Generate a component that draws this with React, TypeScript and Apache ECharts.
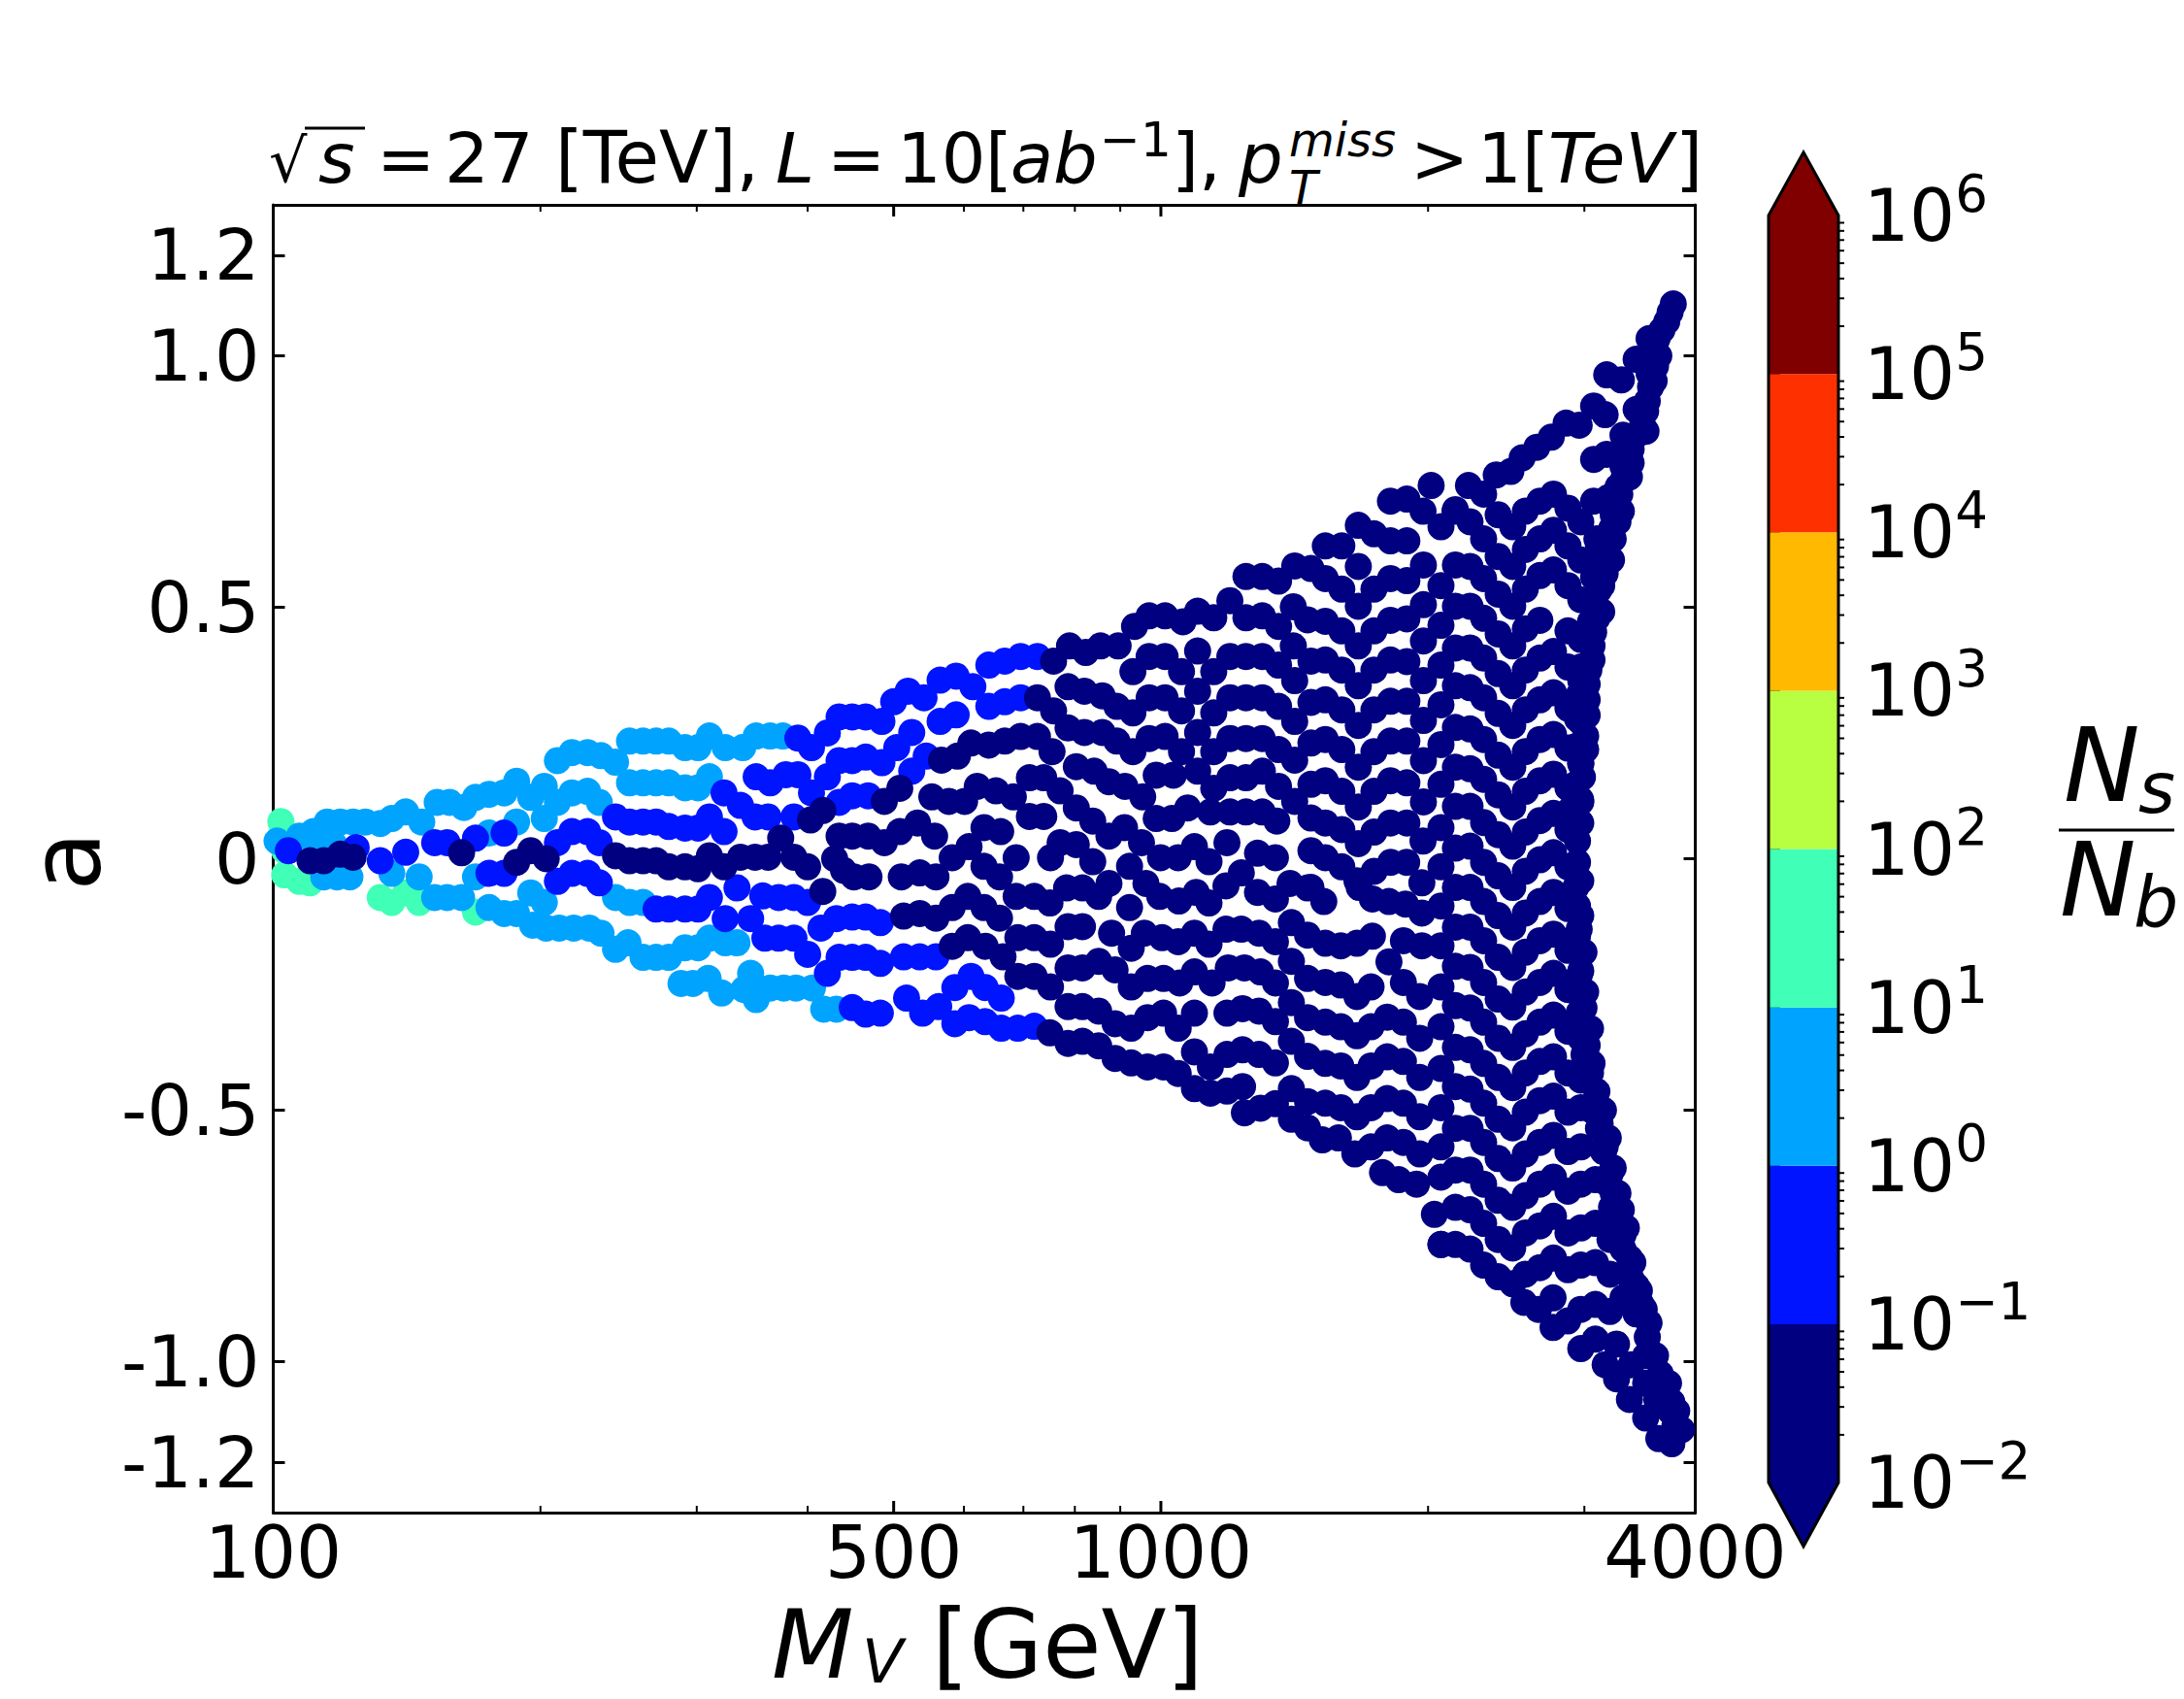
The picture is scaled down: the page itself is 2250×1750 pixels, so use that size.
import React, { useRef, useEffect } from 'react'
import * as echarts from 'echarts'

const FONT = '"DejaVu Sans"'

// tick values and labels
const yTicks = [-1.2, -1.0, -0.5, 0, 0.5, 1.0, 1.2]
const xLabels = [100, 500, 1000, 4000]
const xMajorTicks = [500, 1000]
const xMinorTicks = [200, 300, 400, 600, 700, 800, 900, 2000, 3000]

// colour bar bins, N_s/N_b
const binEdges = [1e-2, 1e-1, 1, 10, 100, 1e3, 1e4, 1e5, 1e6]
const binColors = ['#000080', '#0014ff', '#00a4ff', '#40ffb7', '#b7ff40', '#ffb900', '#ff3000', '#800000']
const arrowLowTip = 0.00394
const arrowHighTip = 2512000
const decades = [-2, -1, 0, 1, 2, 3, 4, 5]
const mantissas = [2, 3, 4, 5, 6, 7, 8, 9]

// points [M_V, a], one array per colour bin
const tealPoints = [
  [102, 0.074], [103, 0.016], [103, -0.032], [107, -0.045], [110, -0.048], [132, -0.077], [136, -0.087],
  [141, -0.068], [146, -0.087], [169, -0.106],
]

const lightBluePoints = [
  [101, 0.035], [107, 0.045], [111, 0.054], [115, 0.073], [119, 0.073], [123, 0.073], [127, 0.073], [132, 0.07],
  [136, 0.08], [141, 0.093], [147, 0.073], [153, 0.112], [158, 0.112], [164, 0.102], [169, 0.122], [175, 0.128],
  [182, 0.131], [188, 0.154], [195, 0.122], [202, 0.08], [202, 0.144], [209, 0.195], [209, 0.112], [217, 0.211],
  [217, 0.131], [226, 0.211], [226, 0.134], [234, 0.205], [233, 0.112], [243, 0.192], [252, 0.234], [261, 0.234],
  [270, 0.234], [279, 0.234], [291, 0.221], [301, 0.221], [310, 0.244], [323, 0.221], [338, 0.221], [350, 0.244],
  [363, 0.244], [375, 0.244], [252, 0.151], [261, 0.151], [270, 0.151], [279, 0.151], [291, 0.141], [301, 0.141],
  [310, 0.163], [114, -0.036], [118, -0.036], [122, -0.036], [117, 0.029], [113, 0.029], [136, -0.029],
  [146, -0.036], [175, 0.051], [188, 0.073], [169, -0.036], [152, -0.077], [157, -0.077], [163, -0.077],
  [175, -0.097], [182, -0.109], [188, -0.109], [195, -0.068], [202, -0.087], [196, -0.132], [203, -0.138],
  [210, -0.138], [218, -0.138], [227, -0.138], [234, -0.148], [243, -0.18], [251, -0.167], [261, -0.196],
  [270, -0.196], [279, -0.196], [291, -0.177], [301, -0.177], [310, -0.158], [323, -0.167], [333, -0.167],
  [243, -0.077], [252, -0.087], [261, -0.087], [288, -0.248], [297, -0.248], [309, -0.238], [320, -0.267],
  [339, -0.26], [345, -0.228], [350, -0.28], [363, -0.257], [376, -0.257], [388, -0.257], [405, -0.257],
  [417, -0.299], [431, -0.299],
]

const bluePoints = [
  [104, 0.016], [124, 0.022], [132, -0.004], [141, 0.013], [152, 0.032], [157, 0.032], [169, 0.041], [182, 0.051],
  [175, -0.029], [182, -0.029], [209, 0.032], [217, 0.054], [226, 0.054], [233, 0.032], [209, -0.045],
  [217, -0.029], [226, -0.029], [233, -0.048], [243, 0.083], [252, 0.073], [261, 0.073], [270, 0.073], [279, 0.064],
  [291, 0.061], [301, 0.061], [310, 0.083], [322, 0.054], [270, -0.1], [279, -0.1], [291, -0.1], [301, -0.1],
  [310, -0.077], [323, -0.119], [333, -0.058], [322, 0.131], [336, 0.106], [349, 0.083], [361, 0.083], [386, 0.083],
  [350, 0.163], [363, 0.151], [378, 0.167], [390, 0.167], [404, 0.131], [390, 0.24], [404, 0.221], [421, 0.25],
  [434, 0.282], [449, 0.282], [465, 0.282], [421, 0.163], [434, 0.195], [449, 0.195], [465, 0.202], [434, 0.112],
  [449, 0.125], [468, 0.125], [356, -0.074], [371, -0.077], [386, -0.077], [400, -0.087], [345, -0.119],
  [358, -0.158], [371, -0.158], [386, -0.158], [400, -0.19], [414, -0.138], [431, -0.119], [449, -0.116],
  [465, -0.116], [421, -0.228], [434, -0.196], [449, -0.196], [465, -0.196], [449, -0.296], [465, -0.309],
  [485, 0.273], [500, 0.312], [519, 0.333], [541, 0.32], [564, 0.355], [588, 0.363], [614, 0.342], [640, 0.385],
  [667, 0.393], [695, 0.402], [726, 0.402], [640, 0.303], [667, 0.312], [695, 0.32], [564, 0.273], [588, 0.286],
  [524, 0.251], [504, 0.221], [485, 0.191], [544, 0.204], [524, 0.174], [483, -0.127], [483, -0.208], [513, -0.195],
  [535, -0.195], [558, -0.195], [483, -0.307], [517, -0.277], [539, -0.307], [562, -0.294], [586, -0.256],
  [611, -0.234], [634, -0.256], [661, -0.277], [586, -0.328], [608, -0.316], [634, -0.324], [661, -0.337],
  [690, -0.337], [720, -0.333],
]

const navyLeft = [
  [110, -0.004], [114, -0.004], [119, 0.009], [123, 0.003], [163, 0.012], [188, -0.007], [195, 0.016], [203, 0],
  [243, 0.006], [252, -0.004], [261, -0.004], [270, -0.004], [279, -0.016], [291, -0.016], [301, -0.02], [310, 0.006],
  [322, -0.016], [336, 0.003], [349, 0.003], [361, 0.003], [373, 0.041], [386, 0.003], [400, -0.016], [403, 0.077],
  [416, 0.096], [429, 0], [439, -0.023], [451, -0.036], [469, -0.036], [416, -0.065], [434, 0.045], [449, 0.045],
  [468, 0.045],
]

const navyMid = [
  [757, 0.393], [789, 0.423], [823, 0.41], [855, 0.423], [895, 0.423], [934, 0.462], [970, 0.483], [1011, 0.483],
  [1059, 0.471], [1100, 0.492], [1147, 0.479], [1196, 0.513], [1247, 0.479], [1301, 0.483], [1357, 0.462],
  [1247, 0.561], [1301, 0.561], [1357, 0.552], [1415, 0.582],
  [930, 0.372], [970, 0.402], [1011, 0.402], [1055, 0.372], [1100, 0.413], [1147, 0.372], [1196, 0.402], [1247, 0.402],
  [1301, 0.402], [1357, 0.385], [1415, 0.354],
  [786, 0.342], [820, 0.333], [859, 0.324], [892, 0.303], [930, 0.29], [970, 0.32], [1011, 0.32], [1055, 0.294],
  [1100, 0.333], [1147, 0.29], [1196, 0.32], [1247, 0.32], [1301, 0.32], [1357, 0.303], [1415, 0.273],
  [726, 0.32], [757, 0.294], [786, 0.26], [820, 0.251], [859, 0.251], [892, 0.234], [930, 0.213], [970, 0.239],
  [1011, 0.243], [1055, 0.213], [1100, 0.251], [1147, 0.213], [1196, 0.239], [1247, 0.239], [1301, 0.239],
  [1357, 0.217], [1415, 0.196],
  [566, 0.196], [590, 0.204], [611, 0.23], [640, 0.226], [667, 0.234], [695, 0.243], [726, 0.243], [754, 0.213],
  [803, 0.183], [841, 0.174], [874, 0.153], [911, 0.144], [954, 0.123], [988, 0.166], [1033, 0.166], [1100, 0.174],
  [1147, 0.14], [1196, 0.161], [1247, 0.161], [1301, 0.174], [1357, 0.144], [1415, 0.114],
  [508, 0.14], [488, 0.114], [552, 0.123], [577, 0.114], [601, 0.114], [621, 0.144], [652, 0.135], [682, 0.123],
  [711, 0.161], [738, 0.161], [770, 0.135], [803, 0.101], [838, 0.075], [874, 0.045], [910, 0.062], [951, 0.032],
  [988, 0.08], [1029, 0.08], [1072, 0.101], [1137, 0.093], [1196, 0.093], [1247, 0.093], [1301, 0.093], [1351, 0.075],
  [488, 0.032], [508, 0.054], [532, 0.071], [556, 0.045], [582, 0.002], [608, 0.024], [632, 0.062], [660, 0.054],
  [687, 0.002], [711, 0.084], [738, 0.084], [751, 0.002], [770, 0.032], [803, 0.028], [838, -0.006], [874, -0.049],
  [922, -0.015], [962, -0.049], [999, 0.002], [1046, 0.002], [1091, 0.024], [1133, -0.006], [1187, 0.032],
  [1285, 0.011], [1346, 0.002],
  [510, -0.036], [535, -0.028], [558, -0.036], [632, -0.015], [658, -0.036], [687, -0.075], [720, -0.075],
  [750, -0.088], [783, -0.058], [816, -0.058], [851, -0.075], [922, -0.097], [997, -0.075], [1048, -0.084],
  [1096, -0.067], [1133, -0.088], [1184, -0.054], [1232, -0.028], [1285, -0.067], [1346, -0.08], [1398, -0.049],
  [1463, -0.058],
  [513, -0.114], [535, -0.109], [558, -0.118], [582, -0.097], [606, -0.075], [632, -0.097], [658, -0.118],
  [690, -0.157], [720, -0.157], [751, -0.17], [786, -0.135], [816, -0.135], [880, -0.148], [926, -0.178],
  [958, -0.148], [1003, -0.157], [1046, -0.165], [1091, -0.148], [1133, -0.17], [1184, -0.14], [1232, -0.14],
  [1290, -0.148], [1346, -0.165], [1403, -0.127], [1463, -0.152],
  [582, -0.174], [606, -0.157], [634, -0.174], [664, -0.195], [690, -0.234], [720, -0.234], [751, -0.255],
  [786, -0.217], [816, -0.217], [851, -0.204], [888, -0.221], [926, -0.255], [966, -0.238], [1007, -0.238],
  [1050, -0.247], [1091, -0.225], [1142, -0.247], [1191, -0.217], [1242, -0.217], [1295, -0.225], [1346, -0.247],
  [1403, -0.204], [1463, -0.238],
  [786, -0.294], [816, -0.294], [851, -0.303], [888, -0.328], [926, -0.337], [966, -0.316], [1007, -0.307],
  [1046, -0.337], [1091, -0.307], [1187, -0.307], [1236, -0.298], [1290, -0.303], [1346, -0.324], [1403, -0.286],
  [1463, -0.316],
  [750, -0.346], [786, -0.367], [816, -0.363], [851, -0.372], [888, -0.397], [926, -0.406], [966, -0.414],
  [1007, -0.414], [1046, -0.427], [1091, -0.384], [1091, -0.457], [1137, -0.466], [1187, -0.462], [1236, -0.453],
  [1137, -0.414], [1187, -0.389], [1236, -0.38], [1290, -0.389], [1346, -0.406], [1403, -0.363], [1463, -0.393],
  [1242, -0.505], [1295, -0.496], [1346, -0.487], [1403, -0.518], [1463, -0.535], [1403, -0.457], [1463, -0.483],
]

const navyUpperChevrons = [
  [1476, 0.577], [1532, 0.557], [1599, 0.536], [1669, 0.502], [1738, 0.536], [1814, 0.557], [1893, 0.553], [1976, 0.584],
  [1410, 0.501], [1463, 0.475], [1532, 0.472], [1599, 0.453], [1669, 0.423], [1738, 0.453], [1814, 0.474], [1893, 0.477], [1976, 0.505],
  [1410, 0.423], [1476, 0.393], [1532, 0.395], [1599, 0.375], [1669, 0.344], [1738, 0.375], [1814, 0.395], [1893, 0.392], [1976, 0.433],
  [1476, 0.311], [1532, 0.316], [1599, 0.296], [1669, 0.265], [1738, 0.296], [1814, 0.313], [1893, 0.313], [1976, 0.354],
  [1476, 0.23], [1532, 0.237], [1599, 0.217], [1669, 0.182], [1738, 0.213], [1814, 0.234], [1893, 0.234], [1976, 0.275],
  [1476, 0.148], [1532, 0.155], [1599, 0.134], [1669, 0.103], [1738, 0.134], [1814, 0.155], [1893, 0.151], [1976, 0.195],
  [1476, 0.081], [1532, 0.071], [1599, 0.058], [1669, 0.03], [1738, 0.053], [1814, 0.071], [1893, 0.071], [1976, 0.113],
  [1476, 0.016], [1532, 0.002], [1599, -0.016], [1663, -0.044], [1739, -0.025], [1815, -0.007], [1892, -0.007], [1974, 0.035],
  [1476, -0.057], [1526, -0.085], [1673, -0.057], [1731, -0.08], [1807, -0.085], [1886, -0.09], [1968, -0.048], [1968, -0.108],
  [1532, -0.168], [1595, -0.173], [1663, -0.168], [1731, -0.154], [1876, -0.163], [1968, -0.173], [1807, -0.205],
  [1532, -0.246], [1595, -0.251], [1663, -0.274], [1725, -0.255], [1876, -0.246], [1957, -0.274],
  [1532, -0.325], [1595, -0.334], [1663, -0.352], [1725, -0.334], [1799, -0.315], [1876, -0.325], [1957, -0.357],
  [1532, -0.407], [1595, -0.412], [1663, -0.435], [1725, -0.412], [1799, -0.394], [1876, -0.403], [1957, -0.435],
  [1532, -0.486], [1595, -0.495], [1663, -0.513], [1725, -0.495], [1799, -0.477], [1876, -0.486], [1957, -0.513],
  [1520, -0.559], [1585, -0.555], [1654, -0.587], [1725, -0.573], [1799, -0.555], [1876, -0.564], [1957, -0.587],
  [1777, -0.624], [1853, -0.638], [1941, -0.647],
  [1532, 0.622], [1599, 0.622], [1669, 0.663], [1738, 0.646], [1814, 0.632], [1893, 0.632], [1669, 0.581],
  [1814, 0.711], [1893, 0.715], [1974, 0.691], [2068, 0.66], [2145, 0.691], [2016, 0.742],
]

const navyColumn2068 = [
  0.543, 0.464, 0.385, 0.306, 0.227, 0.148, 0.062, -0.016, -0.094, -0.173, -0.255, -0.334, -0.417, -0.495, -0.573, -0.633, -0.767,
]

const rightCols = [2147, 2230, 2310, 2399, 2491, 2574, 2673, 2769, 2875, 2972]
const rightRows = [
  [null, null, null, 0.684, 0.66, 0.691, 0.711, 0.725, 0.697, 0.67],
  [0.694, 0.67, 0.636, 0.601, 0.581, 0.615, 0.636, 0.653, 0.622, 0.594],
  [0.584, 0.581, 0.557, 0.526, 0.502, 0.536, 0.563, 0.574, 0.543, 0.515],
  [0.502, 0.502, 0.478, 0.447, 0.423, 0.457, 0.474, null, 0.453, 0.436],
  [0.419, 0.419, 0.399, 0.368, 0.344, 0.375, 0.399, 0.412, 0.381, 0.354],
  [0.344, 0.34, 0.32, 0.289, 0.265, 0.296, 0.316, 0.33, 0.299, 0.272],
  [0.261, 0.258, 0.237, 0.206, 0.182, 0.213, 0.237, 0.247, 0.22, 0.189],
  [0.182, 0.179, 0.158, 0.127, 0.103, 0.134, 0.155, 0.168, 0.141, 0.113],
  [0.104, 0.104, 0.072, 0.048, 0.025, 0.053, 0.076, 0.09, 0.058, 0.071],
  [0.021, 0.025, -0.007, -0.034, -0.057, -0.025, -0.002, 0.012, -0.016, -0.044],
  [-0.057, -0.057, -0.085, -0.113, -0.136, -0.108, -0.085, -0.067, -0.099, -0.113],
  [-0.136, -0.136, -0.163, -0.196, -0.216, -0.186, -0.163, -0.15, -0.182, -0.191],
  [-0.214, -0.216, -0.246, -0.279, -0.295, -0.265, -0.246, -0.228, -0.26, -0.274],
  [-0.292, -0.297, -0.325, -0.357, -0.375, -0.348, -0.325, -0.311, -0.343, -0.357],
  [-0.375, -0.38, -0.407, -0.435, -0.455, -0.426, -0.403, -0.394, -0.426, -0.44],
  [-0.453, -0.458, -0.486, -0.518, -0.535, -0.504, -0.481, -0.472, -0.504, -0.495],
  [-0.536, -0.536, -0.564, -0.596, -0.615, -0.587, -0.564, -0.55, -0.582, -0.573],
  [-0.619, -0.619, -0.647, -0.679, -0.693, -0.67, -0.647, -0.633, -0.661, -0.647],
  [-0.693, -0.698, -0.725, -0.757, -0.774, -0.744, -0.73, -0.711, -0.744, -0.734],
  [-0.767, -0.776, -0.808, -0.831, -0.845, -0.826, -0.813, -0.794, -0.817, -0.808],
]

const navyEdge = [
  [2221, 0.742], [2310, 0.725], [2387, 0.763], [2479, 0.77], [2553, 0.797], [2652, 0.818], [2753, 0.838], [2861, 0.866],
  [2960, 0.862], [3073, 0.9], [3166, 0.883], [3179, 0.962], [3302, 0.952], [3431, 0.993],
  [3778, 1.103], [3747, 1.086], [3715, 1.068], [3668, 1.051], [3623, 1.034], [3548, 1.034], [3639, 1.0], [3608, 0.979],
  [3548, 0.965], [3562, 0.938], [3532, 0.91], [3517, 0.89], [3431, 0.893], [3488, 0.862], [3431, 0.842], [3316, 0.842],
  [3387, 0.814], [3387, 0.787], [3289, 0.807], [3179, 0.804], [3073, 0.794], [3316, 0.752], [3372, 0.759], [3289, 0.725],
  [3192, 0.718], [3073, 0.711], [3302, 0.691], [3273, 0.67], [3233, 0.636], [3099, 0.636], [3219, 0.594], [3166, 0.567],
  [3112, 0.622], [3138, 0.543], [3073, 0.56], [3138, 0.491], [3073, 0.512], [3048, 0.471], [3060, 0.423], [3010, 0.436],
  [3035, 0.375], [2972, 0.381], [3022, 0.316], [2960, 0.326], [3010, 0.244], [2947, 0.278], [2972, 0.189], [2934, 0.223],
  [2972, 0.117], [2934, 0.148], [2897, 0.099], [2934, 0.067], [2947, -0.007], [2934, -0.057], [2947, -0.094],
  [2947, -0.154], [2997, -0.186], [3010, -0.265], [2960, -0.232], [3048, -0.338], [2960, -0.306], [2997, -0.389],
  [3060, -0.407], [3099, -0.463], [3022, -0.435], [3152, -0.5], [3060, -0.5], [3192, -0.555], [3112, -0.536],
  [3233, -0.615], [3152, -0.582], [3273, -0.665], [3192, -0.647], [3302, -0.698], [3219, -0.693], [3345, -0.734],
  [3273, -0.734], [3402, -0.803], [3316, -0.776], [3460, -0.859], [3387, -0.836], [3504, -0.896], [3431, -0.905],
  [3548, -0.923], [3608, -0.988], [3517, -0.988], [3732, -1.043], [3653, -1.024], [3812, -1.098], [3764, -1.08],
  [3860, -1.135], [3764, -1.163], [3639, -1.153], [3517, -1.112], [3372, -1.075],
]

// points inside the solid band along the right edge
const navyBandUpper = [
  [3345, 0.82], [3316, 0.78], [3273, 0.739], [3233, 0.684], [3219, 0.656], [3166, 0.615], [3125, 0.581], [3112, 0.533],
  [3099, 0.478], [3073, 0.45], [3060, 0.395], [3022, 0.347], [3022, 0.285], [3010, 0.217], [2985, 0.162],
  [3595, 0.95], [3520, 0.85],
]
const navyBandLower = [
  [2947, 0.035], [2960, -0.14], [2972, -0.223], [2997, -0.297], [3022, -0.371], [3048, -0.426], [3087, -0.481],
  [3125, -0.527], [3166, -0.573], [3206, -0.628], [3233, -0.665], [3273, -0.711], [3316, -0.748], [3372, -0.794],
  [3431, -0.849], [3475, -0.886], [3532, -0.951], [3578, -0.988], [3700, -1.061], [3747, -1.098], [3795, -1.126],
  [3620, -1.075],
]

const navyTail = [
  [2033, -0.707], [2068, -0.767], [3087, -0.638], [3087, -0.725], [3206, -0.757], [3087, -0.803], [3206, -0.826],
  [2564, -0.882], [2663, -0.896], [2766, -0.873], [2766, -0.932], [2873, -0.919], [2972, -0.896], [3087, -0.886],
  [3206, -0.9], [3316, -0.873], [2972, -0.974], [3087, -0.955], [3261, -0.965], [3166, -1.006], [3261, -1.034],
  [3387, -1.006], [3517, -1.043],
]

const navyRightPoints = rightRows.flatMap(row =>
  row.flatMap((a, i) => (a === null ? [] : [[rightCols[i], a]]))
)
const navyPoints = [
  ...navyLeft,
  ...navyMid,
  ...navyUpperChevrons,
  ...navyColumn2068.map(a => [2068, a]),
  ...navyRightPoints,
  ...navyEdge,
  ...navyBandUpper,
  ...navyBandLower,
  ...navyTail,
]

function scatter(name: string, data: number[][], color: string) {
  return { name, type: 'scatter', data, symbol: 'circle', symbolSize: 28, itemStyle: { color, opacity: 1 }, silent: true }
}

// tick marks on the log x axis: y is the frame edge, dir the side they point to
function xTicks(values: number[], edge: number, length: number, width: number, dir: number) {
  return {
    type: 'custom',
    silent: true,
    encode: { x: 0, y: 1 },
    data: values.map(v => [v, edge]),
    renderItem: (_: any, api: any) => {
      const p = api.coord([api.value(0), api.value(1)])
      return {
        type: 'line',
        shape: { x1: p[0], y1: p[1], x2: p[0], y2: p[1] + dir * length },
        style: { stroke: '#000', lineWidth: width },
      }
    },
  }
}

function mathText(text: string, x: number, baseline: number, size: number, italic = false) {
  return {
    type: 'text',
    x,
    y: baseline - 0.346 * size,
    silent: true,
    style: {
      text,
      fill: '#000',
      font: `${italic ? 'italic ' : ''}${size}px ${FONT}`,
      textAlign: 'left',
      textVerticalAlign: 'middle',
    },
  }
}

function App() {
  const chartRef = useRef(null)

  useEffect(() => {
    const chart = echarts.init(chartRef.current, null, { renderer: 'svg' })

    const option = {
      animation: false,
      backgroundColor: '#fff',
      grid: [
        { left: 281.5, top: 211, width: 1465, height: 1347 },
        { left: 1822, top: 222, width: 72, height: 1305 },
      ],
      xAxis: [
        {
          type: 'log', logBase: 10, min: 100, max: 4000, gridIndex: 0, position: 'bottom',
          axisLine: { onZero: false, lineStyle: { color: '#000', width: 3 } },
          axisTick: { show: false }, minorTick: { show: false }, axisLabel: { show: false }, splitLine: { show: false },
        },
        {
          type: 'log', logBase: 10, min: 100, max: 4000, gridIndex: 0, position: 'top',
          axisLine: { onZero: false, lineStyle: { color: '#000', width: 3 } },
          axisTick: { show: false }, minorTick: { show: false }, axisLabel: { show: false }, splitLine: { show: false },
        },
        { type: 'value', min: 0, max: 1, gridIndex: 1, show: false },
      ],
      yAxis: [
        {
          type: 'value', min: -1.3, max: 1.3, gridIndex: 0, position: 'left',
          axisLine: { onZero: false, lineStyle: { color: '#000', width: 3 } },
          axisTick: { inside: true, length: 12, customValues: yTicks, lineStyle: { color: '#000', width: 3 } },
          axisLabel: {
            customValues: yTicks,
            margin: 14,
            color: '#000',
            fontFamily: FONT,
            fontSize: 73,
            formatter: (v: number) => (v === 0 ? '0' : v.toFixed(1)),
          },
          splitLine: { show: false },
        },
        {
          type: 'value', min: -1.3, max: 1.3, gridIndex: 0, position: 'right',
          axisLine: { onZero: false, lineStyle: { color: '#000', width: 3 } },
          axisTick: { inside: true, length: 12, customValues: yTicks, lineStyle: { color: '#000', width: 3 } },
          axisLabel: { show: false },
          splitLine: { show: false },
        },
        {
          type: 'log', logBase: 10, min: 0.01, max: 1000000, gridIndex: 1, position: 'right', splitNumber: 8,
          axisLine: { show: false },
          axisTick: { length: 12, lineStyle: { color: '#000', width: 3 } },
          axisLabel: {
            margin: 26,
            color: '#000',
            fontFamily: FONT,
            formatter: (v: number) => {
              const e = Math.round(Math.log10(v))
              return `{b|10}{s|${e < 0 ? '\u2212' + -e : e}}`
            },
            rich: {
              b: { fontSize: 74, fontFamily: FONT, color: '#000' },
              s: { fontSize: 53, fontFamily: FONT, color: '#000', padding: [0, 0, 46, 0] },
            },
          },
          splitLine: { show: false },
        },
      ],
      series: [
        scatter('1-10 teal', tealPoints, binColors[3]),
        scatter('0-1 light blue', lightBluePoints, binColors[2]),
        scatter('0.1-1 blue', bluePoints, binColors[1]),
        scatter('0.01-0.1 navy', navyPoints, binColors[0]),
        xTicks(xMajorTicks, -1.3, 12, 3, -1),
        xTicks(xMinorTicks, -1.3, 7, 2, -1),
        xTicks(xMajorTicks, 1.3, 12, 3, 1),
        xTicks(xMinorTicks, 1.3, 7, 2, 1),
        {
          // x tick labels: the log axis cannot place 500 and 4000 by itself
          type: 'custom',
          silent: true,
          encode: { x: 0, y: 1 },
          data: xLabels.map(v => [v, -1.3]),
          renderItem: (_: any, api: any) => {
            const p = api.coord([api.value(0), api.value(1)])
            return {
              type: 'text',
              x: p[0],
              y: p[1] + 41,
              style: {
                text: String(api.value(0)),
                fill: '#000',
                font: `74px ${FONT}`,
                textAlign: 'center',
                textVerticalAlign: 'middle',
              },
            }
          },
        },
        {
          // colour bar cells
          type: 'custom',
          xAxisIndex: 2,
          yAxisIndex: 2,
          silent: true,
          encode: { x: 0, y: 1 },
          data: binColors.map((_, i) => [0, binEdges[i], binEdges[i + 1], i]),
          renderItem: (_: any, api: any) => {
            const a = api.coord([0, api.value(1)])
            const b = api.coord([1, api.value(2)])
            return {
              type: 'rect',
              shape: { x: a[0], y: b[1], width: b[0] - a[0], height: a[1] - b[1] },
              style: { fill: binColors[api.value(3)] },
            }
          },
        },
        {
          // extension arrows and outline of the colour bar
          type: 'custom',
          xAxisIndex: 2,
          yAxisIndex: 2,
          silent: true,
          encode: { x: 0, y: 1 },
          data: [[0, 1e-2, arrowLowTip, 0], [0, 1e6, arrowHighTip, 7]],
          renderItem: (_: any, api: any) => {
            const e = api.value(1)
            const tip = api.value(2)
            const c = binColors[api.value(3)]
            return {
              type: 'polygon',
              shape: { points: [api.coord([0, e]), api.coord([0.5, tip]), api.coord([1, e])] },
              style: { fill: c },
            }
          },
        },
        {
          type: 'custom',
          xAxisIndex: 2,
          yAxisIndex: 2,
          silent: true,
          encode: { x: 0, y: 1 },
          data: [[0, 1e-2]],
          renderItem: (_: any, api: any) => ({
            type: 'polygon',
            shape: {
              points: [
                api.coord([0, 1e-2]), api.coord([0.5, arrowLowTip]), api.coord([1, 1e-2]),
                api.coord([1, 1e6]), api.coord([0.5, arrowHighTip]), api.coord([0, 1e6]),
              ],
            },
            style: { fill: 'none', stroke: '#000', lineWidth: 3 },
          }),
        },
        {
          // colour bar minor ticks
          type: 'custom',
          xAxisIndex: 2,
          yAxisIndex: 2,
          silent: true,
          encode: { x: 0, y: 1 },
          data: decades.flatMap(d => mantissas.map(m => [1, m * Math.pow(10, d)])),
          renderItem: (_: any, api: any) => {
            const p = api.coord([1, api.value(1)])
            return {
              type: 'line',
              shape: { x1: p[0], y1: p[1], x2: p[0] + 6, y2: p[1] },
              style: { stroke: '#000', lineWidth: 2 },
            }
          },
        },
      ],
      graphic: [
        // title
        mathText('\u221a', 277, 187, 62),
        { type: 'line', silent: true, shape: { x1: 314, y1: 132, x2: 376, y2: 132 }, style: { stroke: '#000', lineWidth: 3 } },
        mathText('s', 328, 188, 72, true),
        mathText('=', 388, 188, 72),
        mathText('27', 458, 188, 72),
        mathText('[TeV],', 572, 188, 74),
        mathText('L', 799, 188, 72, true),
        mathText('=', 852, 188, 72),
        mathText('10', 924, 188, 72),
        mathText('[', 1015, 188, 72),
        mathText('ab', 1041, 188, 72, true),
        mathText('\u22121', 1133, 161, 50),
        mathText('],', 1207, 188, 72),
        mathText('p', 1276, 188, 72, true),
        {
          // superscript and subscript stacked as one text
          type: 'text', x: 1328, y: 168, silent: true,
          style: {
            text: '{m|miss}\n{t|T}',
            textAlign: 'left',
            textVerticalAlign: 'middle',
            rich: {
              m: { fontSize: 48, fontStyle: 'italic', fontFamily: FONT, fill: '#000', lineHeight: 49 },
              t: { fontSize: 48, fontStyle: 'italic', fontFamily: FONT, fill: '#000', lineHeight: 49 },
            },
          },
        },
        mathText('>', 1453, 188, 72),
        mathText('1', 1522, 188, 72),
        mathText('[', 1568, 188, 72),
        mathText('TeV', 1595, 188, 72, true),
        mathText(']', 1726, 188, 72),
        // x axis name
        mathText('M', 795, 1728, 98, true),
        mathText('V', 888, 1733, 62, true),
        mathText('[GeV]', 960, 1728, 98),
        // y axis name
        {
          type: 'text', x: 68, y: 887, rotation: Math.PI / 2, silent: true,
          style: { text: 'a', fill: '#000', font: `100px ${FONT}`, textAlign: 'center', textVerticalAlign: 'middle' },
        },
        // colour bar name
        mathText('N', 2126, 825, 105, true),
        mathText('s', 2203, 837, 73, true),
        { type: 'line', silent: true, shape: { x1: 2121, y1: 855, x2: 2240, y2: 855 }, style: { stroke: '#000', lineWidth: 3 } },
        mathText('N', 2122, 943, 105, true),
        mathText('b', 2198, 955, 73, true),
      ],
    }

    chart.setOption(option)

    return () => {
      chart.dispose()
    }
  }, [])

  return <div ref={chartRef} style={{ position: 'absolute', left: 0, top: 0, width: 2250, height: 1750 }}></div>
}

export default App
